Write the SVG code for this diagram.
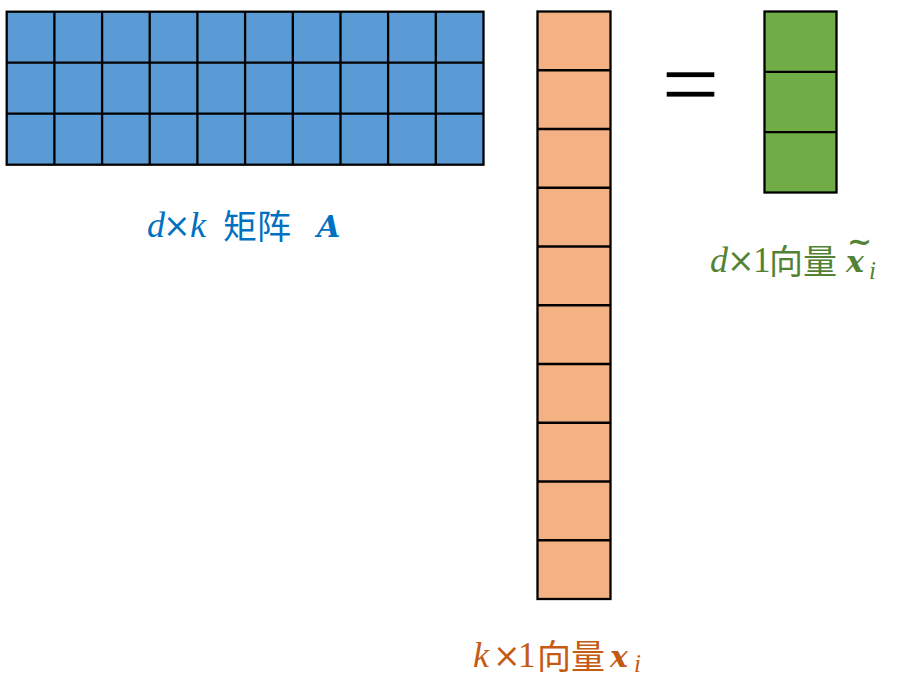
<svg xmlns="http://www.w3.org/2000/svg" width="911" height="678" viewBox="0 0 911 678">
<style>
.grid{stroke:#000;stroke-width:2.3;}
.lat{font-family:"Liberation Serif","DejaVu Serif",serif;font-style:italic;font-size:36px;}
.op{font-family:"DejaVu Serif","Liberation Serif",serif;font-size:33px;}
.num{font-family:"Liberation Serif","DejaVu Serif",serif;font-size:35px;}
.cjk{font-family:"Noto Sans CJK SC",sans-serif;font-size:34px;}
.bi{font-family:"DejaVu Serif","Liberation Serif",serif;font-style:italic;font-weight:bold;font-size:30px;}
.sub{font-family:"Liberation Serif","DejaVu Serif",serif;font-style:italic;font-size:25px;}
</style>
<rect width="911" height="678" fill="#fff"/>
<g id="matrixA">
<rect x="6.7" y="11.7" width="476.8" height="153" fill="#5B9BD5" class="grid"/>
<path class="grid" fill="none" d="M54.4 11.7V164.7M102.1 11.7V164.7M149.7 11.7V164.7M197.4 11.7V164.7M245.1 11.7V164.7M292.8 11.7V164.7M340.5 11.7V164.7M388.1 11.7V164.7M435.8 11.7V164.7M6.7 62.7H483.5M6.7 113.7H483.5"/>
</g>
<g id="vectorX">
<rect x="537.5" y="11.5" width="73" height="587.5" fill="#F4B183" class="grid"/>
<path class="grid" fill="none" d="M537.5 70.25H610.5M537.5 129H610.5M537.5 187.75H610.5M537.5 246.5H610.5M537.5 305.25H610.5M537.5 364H610.5M537.5 422.75H610.5M537.5 481.5H610.5M537.5 540.25H610.5"/>
</g>
<g id="equals">
<rect x="666.7" y="72.3" width="47.6" height="4.8" fill="#000"/>
<rect x="666.7" y="91.8" width="47.6" height="4.8" fill="#000"/>
</g>
<g id="vectorXt">
<rect x="764.5" y="11.5" width="72" height="181" fill="#70AD47" class="grid"/>
<path class="grid" fill="none" d="M764.5 71.8H836.5M764.5 132.2H836.5"/>
</g>
<g id="labelA" fill="#0070C0">
<text class="lat" x="147" y="237">d</text>
<text class="op" x="163" y="237">×</text>
<text class="lat" x="190" y="237">k</text>
<text class="cjk" x="223" y="239">矩阵</text>
<text class="bi" x="317" y="237">A</text>
</g>
<g id="labelXt" fill="#548235">
<text class="lat" x="710" y="272">d</text>
<text class="op" x="727" y="272">×</text>
<text class="num" x="753" y="272">1</text>
<text class="cjk" x="769" y="274" font-size="33">向量</text>
<text class="bi" x="846" y="272">x</text>
<text class="bi" x="847" y="252" font-size="28">~</text>
<text class="sub" x="869" y="279">i</text>
</g>
<g id="labelX" fill="#C55A11">
<text class="lat" x="473" y="667">k</text>
<text class="op" x="493" y="667">×</text>
<text class="num" x="518" y="667">1</text>
<text class="cjk" x="537" y="669" font-size="33">向量</text>
<text class="bi" x="610" y="667">x</text>
<text class="sub" x="634" y="672">i</text>
</g>
</svg>
